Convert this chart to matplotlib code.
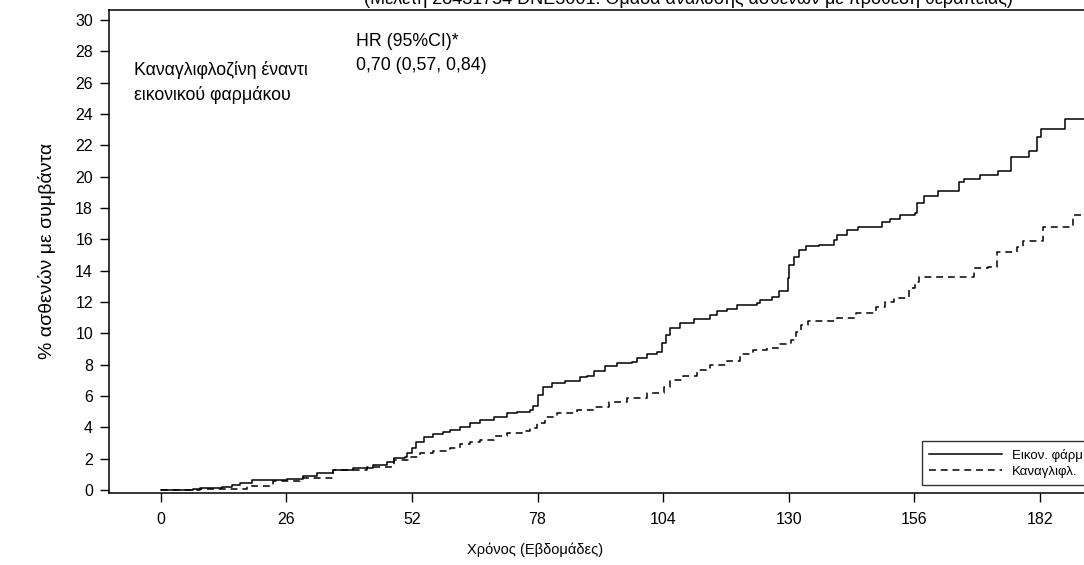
import matplotlib
matplotlib.use('Agg')
import matplotlib.pyplot as plt

plt.rc('font', family=['Liberation Sans', 'DejaVu Sans'], size=11)

#### data
weeks_placebo = [0, 6.7, 8.1, 12.6, 14.7, 16.4, 18.8, 22.6, 26.1, 29.5, 32.3, 35.7, 39.9,
                 44.0, 46.8, 48.2, 50.6, 50.9, 52.0, 52.9, 54.5, 56.4, 58.5, 59.9, 62.0,
                 64.0, 66.1, 68.9, 71.6, 73.7, 76.5, 77.1, 78.2, 79.2, 80.9, 83.7, 86.8,
                 88.2, 89.6, 92.0, 94.4, 97.5, 98.6, 100.6, 102.7, 103.7, 104.6, 105.4,
                 107.5, 110.3, 113.7, 115.1, 117.2, 119.3, 123.4, 124.1, 126.5, 128.0,
                 129.9, 130.1, 131.0, 132.2, 133.6, 136.2, 139.3, 140.0, 142.0, 144.4,
                 149.3, 151.0, 153.0, 156.2, 156.5, 158.0, 161.0, 165.3, 166.2, 169.6,
                 173.4, 176.0, 179.8, 181.5, 182.2, 187.1, 193.0]
pct_placebo = [0, 0.04, 0.10, 0.17, 0.32, 0.47, 0.64, 0.64, 0.72, 0.89, 1.10, 1.28, 1.38,
               1.60, 1.80, 2.06, 2.13, 2.34, 2.70, 3.08, 3.35, 3.57, 3.72, 3.83, 4.00,
               4.30, 4.47, 4.64, 4.90, 5.00, 5.10, 5.36, 6.06, 6.55, 6.80, 6.96, 7.19,
               7.27, 7.61, 7.91, 8.13, 8.19, 8.40, 8.68, 8.83, 9.36, 9.90, 10.32,
               10.64, 10.90, 11.17, 11.44, 11.53, 11.83, 11.91, 12.10, 12.34, 12.70,
               13.50, 14.36, 14.90, 15.30, 15.57, 15.63, 15.95, 16.27, 16.60, 16.76,
               17.10, 17.30, 17.55, 17.70, 18.30, 18.80, 19.10, 19.67, 19.85, 20.10,
               20.38, 21.27, 21.65, 22.55, 23.06, 23.68, 23.68]

weeks_cana = [0, 3.3, 8.1, 12.3, 17.8, 23.3, 28.8, 35.7, 42.7, 48.2, 51.6, 53.7, 56.4,
              59.9, 62.0, 64.0, 66.1, 68.9, 71.6, 74.7, 76.5, 77.8, 79.6, 82.0, 86.1,
              89.6, 92.7, 96.5, 100.6, 104.1, 105.4, 108.2, 111.0, 113.7, 117.2, 119.9,
              122.7, 125.5, 128.2, 130.5, 131.5, 132.5, 134.0, 140.0, 144.0, 148.0,
              150.0, 151.7, 154.8, 156.2, 156.9, 168.3, 171.3, 173.1, 177.2, 178.6,
              182.7, 188.9, 193.0]
pct_cana = [0, 0.02, 0.04, 0.08, 0.26, 0.57, 0.79, 1.28, 1.49, 1.91, 2.13, 2.38, 2.51,
            2.70, 2.90, 3.05, 3.19, 3.45, 3.62, 3.77, 3.94, 4.26, 4.68, 4.90, 5.10,
            5.32, 5.64, 5.89, 6.21, 6.59, 7.02, 7.27, 7.66, 7.96, 8.25, 8.66,
            8.93, 9.04, 9.30, 9.60, 10.10, 10.50, 10.80, 11.00, 11.30, 11.70,
            12.00, 12.23, 12.87, 13.30, 13.57, 14.15, 14.25, 15.20, 15.53, 15.90,
            16.80, 17.55, 17.55]

x_ticks = [0, 26, 52, 78, 104, 130, 156, 182]
y_ticks = list(range(0, 31, 2))

label_placebo = 'Εικον. φάρμ.'
label_cana = 'Καναγλιφλ.'

W, H = 1084, 565


def px(x, y):
    # pixel position (top-left origin) -> figure fraction
    return x / W, 1 - y / H


#### figure
fig = plt.figure(figsize=(W / 100, H / 100), dpi=100)
ax = fig.add_axes([0.1006, 0.1274, 0.9055, 0.855])

ax.plot(weeks_placebo, pct_placebo, drawstyle='steps-post', color='black', lw=1.1,
        label=label_placebo)
ax.plot(weeks_cana, pct_cana, drawstyle='steps-post', color='black', lw=1.1,
        ls=(0, (4.5, 3.2)), label=label_cana)

ax.set_xlim(-10.7, 192.5)
ax.set_ylim(-0.2, 30.65)
ax.set_xticks(x_ticks)
ax.set_yticks(y_ticks)
ax.tick_params(direction='out', length=6.5, width=1, labelsize=11.5)
ax.tick_params(axis='x', pad=7)
ax.tick_params(axis='y', pad=5)
for sp in ax.spines.values():
    sp.set_linewidth(1.1)

# annotation block
fig.text(*px(134, 70), 'Καναγλιφλοζίνη έναντι', fontsize=12.8, ha='left', va='center')
fig.text(*px(134, 95), 'εικονικού φαρμάκου', fontsize=12.8, ha='left', va='center')
fig.text(*px(356, 41), 'HR (95%CI)*', fontsize=12.8, ha='left', va='center')
fig.text(*px(356, 65), '0,70 (0,57, 0,84)', fontsize=12.8, ha='left', va='center')

leg = ax.legend(loc='lower left', bbox_to_anchor=(0.828, 0.0166), borderaxespad=0,
                fontsize=9.5, frameon=True, fancybox=False, edgecolor='black',
                handlelength=5.5, handletextpad=0.75, borderpad=0.55, labelspacing=0.3)
leg.get_frame().set_linewidth(1.0)

fig.text(*px(47, 251), '% ασθενών με συμβάντα', rotation=90,
         ha='center', va='center', fontsize=14)
fig.text(*px(535, 550), 'Χρόνος (Εβδομάδες)', ha='center', va='center', fontsize=10.5)
fig.text(*px(688, 4.5), '(Μελέτη 28431754 DNE3001: Ομάδα ανάλυσης ασθενών με πρόθεση θεραπείας)',
         ha='center', va='baseline', fontsize=13)

plt.savefig('out.png', dpi=100)
